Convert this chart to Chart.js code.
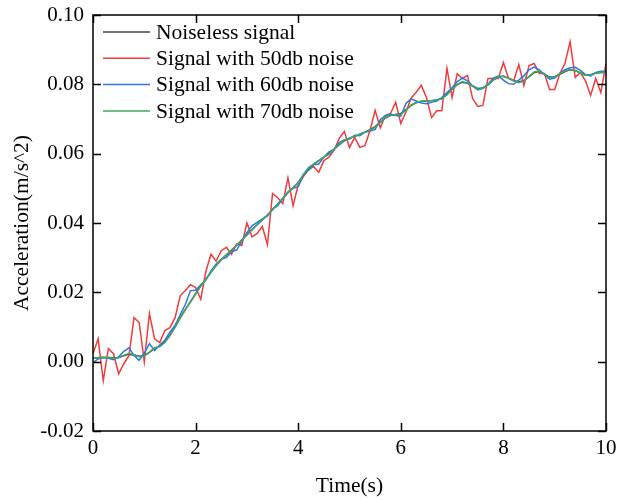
<!DOCTYPE html>
<html>
<head>
<meta charset="utf-8">
<script src="https://cdn.jsdelivr.net/npm/chart.js@4.4.1/dist/chart.umd.min.js"></script>
<style>
  html, body { margin: 0; padding: 0; background: #fff; }
  canvas { display: block; }
</style>
</head>
<body>
<canvas id="accChart" width="617" height="500"></canvas>
<script>
// sample times (s), one every 0.1 s
const time = [
  0.0, 0.1, 0.2, 0.3, 0.4, 0.5, 0.6, 0.7, 0.8, 0.9,
  1.0, 1.1, 1.2, 1.3, 1.4, 1.5, 1.6, 1.7, 1.8, 1.9,
  2.0, 2.1, 2.2, 2.3, 2.4, 2.5, 2.6, 2.7, 2.8, 2.9,
  3.0, 3.1, 3.2, 3.3, 3.4, 3.5, 3.6, 3.7, 3.8, 3.9,
  4.0, 4.1, 4.2, 4.3, 4.4, 4.5, 4.6, 4.7, 4.8, 4.9,
  5.0, 5.1, 5.2, 5.3, 5.4, 5.5, 5.6, 5.7, 5.8, 5.9,
  6.0, 6.1, 6.2, 6.3, 6.4, 6.5, 6.6, 6.7, 6.8, 6.9,
  7.0, 7.1, 7.2, 7.3, 7.4, 7.5, 7.6, 7.7, 7.8, 7.9,
  8.0, 8.1, 8.2, 8.3, 8.4, 8.5, 8.6, 8.7, 8.8, 8.9,
  9.0, 9.1, 9.2, 9.3, 9.4, 9.5, 9.6, 9.7, 9.8, 9.9,
  10.0
];

const noiseless = [
  0.0010, 0.0011, 0.0012, 0.0012, 0.0011, 0.0012, 0.0017, 0.0021, 0.0019, 0.0016,
  0.0018, 0.0027, 0.0038, 0.0045, 0.0057, 0.0076, 0.0100, 0.0126, 0.0150, 0.0173,
  0.0196, 0.0218, 0.0238, 0.0258, 0.0277, 0.0294, 0.0308, 0.0322, 0.0336, 0.0351,
  0.0366, 0.0381, 0.0395, 0.0409, 0.0423, 0.0438, 0.0455, 0.0471, 0.0487, 0.0502,
  0.0517, 0.0538, 0.0556, 0.0569, 0.0580, 0.0590, 0.0600, 0.0613, 0.0626, 0.0637,
  0.0644, 0.0650, 0.0656, 0.0662, 0.0669, 0.0678, 0.0691, 0.0703, 0.0710, 0.0713,
  0.0716, 0.0727, 0.0739, 0.0747, 0.0751, 0.0752, 0.0753, 0.0755, 0.0759, 0.0771,
  0.0786, 0.0799, 0.0806, 0.0803, 0.0795, 0.0786, 0.0789, 0.0799, 0.0812, 0.0821,
  0.0823, 0.0818, 0.0811, 0.0807, 0.0811, 0.0822, 0.0834, 0.0837, 0.0829, 0.0821,
  0.0822, 0.0829, 0.0837, 0.0842, 0.0840, 0.0833, 0.0827, 0.0828, 0.0832, 0.0834,
  0.0834
];

const noise50 = [
  0.0023, 0.0066, -0.0055, 0.0038, 0.0023, -0.0035, -0.0006, 0.0017, 0.0127, 0.0113,
  0.0000, 0.0139, 0.0066, 0.0055, 0.0090, 0.0098, 0.0127, 0.0190, 0.0205, 0.0222,
  0.0214, 0.0180, 0.0260, 0.0310, 0.0290, 0.0320, 0.0330, 0.0310, 0.0340, 0.0335,
  0.0400, 0.0360, 0.0370, 0.0390, 0.0338, 0.0485, 0.0473, 0.0456, 0.0530, 0.0450,
  0.0510, 0.0534, 0.0554, 0.0563, 0.0546, 0.0580, 0.0590, 0.0610, 0.0644, 0.0664,
  0.0618, 0.0647, 0.0618, 0.0623, 0.0667, 0.0725, 0.0675, 0.0710, 0.0716, 0.0748,
  0.0687, 0.0720, 0.0760, 0.0777, 0.0797, 0.0762, 0.0704, 0.0724, 0.0724, 0.0846,
  0.0762, 0.0831, 0.0817, 0.0826, 0.0759, 0.0736, 0.0739, 0.0817, 0.0817, 0.0817,
  0.0863, 0.0817, 0.0810, 0.0857, 0.0797, 0.0854, 0.0860, 0.0831, 0.0831, 0.0785,
  0.0785, 0.0831, 0.0860, 0.0923, 0.0820, 0.0834, 0.0810, 0.0768, 0.0817, 0.0776,
  0.0860
];

const noise60 = [
  -0.0003, 0.0008, 0.0012, 0.0010, 0.0006, 0.0014, 0.0030, 0.0040, 0.0018, 0.0004,
  0.0025, 0.0052, 0.0032, 0.0048, 0.0062, 0.0085, 0.0105, 0.0135, 0.0165, 0.0205,
  0.0206, 0.0222, 0.0235, 0.0262, 0.0282, 0.0296, 0.0300, 0.0318, 0.0322, 0.0348,
  0.0372, 0.0392, 0.0402, 0.0412, 0.0420, 0.0440, 0.0450, 0.0470, 0.0490, 0.0500,
  0.0505, 0.0538, 0.0552, 0.0568, 0.0570, 0.0590, 0.0605, 0.0612, 0.0632, 0.0640,
  0.0642, 0.0653, 0.0652, 0.0662, 0.0665, 0.0670, 0.0698, 0.0710, 0.0714, 0.0710,
  0.0708, 0.0745, 0.0758, 0.0752, 0.0746, 0.0744, 0.0748, 0.0752, 0.0762, 0.0776,
  0.0790, 0.0808, 0.0818, 0.0810, 0.0796, 0.0788, 0.0790, 0.0800, 0.0818, 0.0824,
  0.0812, 0.0802, 0.0800, 0.0812, 0.0825, 0.0842, 0.0850, 0.0842, 0.0828, 0.0815,
  0.0818, 0.0832, 0.0842, 0.0848, 0.0849, 0.0840, 0.0828, 0.0824, 0.0834, 0.0838,
  0.0838
];

const noise70 = [
  0.0009, 0.0012, 0.0013, 0.0012, 0.0010, 0.0011, 0.0018, 0.0024, 0.0020, 0.0014,
  0.0016, 0.0028, 0.0040, 0.0043, 0.0055, 0.0075, 0.0100, 0.0127, 0.0150, 0.0172,
  0.0195, 0.0218, 0.0238, 0.0258, 0.0278, 0.0295, 0.0308, 0.0322, 0.0335, 0.0350,
  0.0365, 0.0380, 0.0395, 0.0410, 0.0423, 0.0438, 0.0455, 0.0472, 0.0488, 0.0502,
  0.0516, 0.0540, 0.0560, 0.0570, 0.0580, 0.0590, 0.0598, 0.0612, 0.0626, 0.0638,
  0.0645, 0.0650, 0.0656, 0.0662, 0.0668, 0.0676, 0.0690, 0.0704, 0.0710, 0.0713,
  0.0714, 0.0725, 0.0740, 0.0748, 0.0751, 0.0752, 0.0753, 0.0755, 0.0758, 0.0770,
  0.0786, 0.0800, 0.0808, 0.0804, 0.0795, 0.0784, 0.0788, 0.0798, 0.0812, 0.0822,
  0.0824, 0.0818, 0.0810, 0.0805, 0.0810, 0.0822, 0.0836, 0.0838, 0.0828, 0.0820,
  0.0822, 0.0830, 0.0838, 0.0843, 0.0840, 0.0832, 0.0826, 0.0828, 0.0833, 0.0835,
  0.0834
];

const seriesNames = ["Noiseless signal", "Signal with 50db noise", "Signal with 60db noise", "Signal with 70db noise"];
const seriesColors = ["#444444", "#ee3c3c", "#2f74e2", "#3caa62"];

const FONT = '"Liberation Serif", "Times New Roman", serif';

const toPoints = (vals) => vals.map((v, i) => ({ x: time[i], y: v }));

// frame with inward ticks on all four sides + legend inside the plot
const framePlugin = {
  id: "framePlugin",
  afterDraw(chart) {
    const { ctx, chartArea: a, scales: { x, y } } = chart;
    const len = 8;
    ctx.save();
    ctx.strokeStyle = "#000";
    ctx.lineWidth = 1.5;
    ctx.strokeRect(a.left, a.top, a.right - a.left, a.bottom - a.top);
    ctx.beginPath();
    x.ticks.forEach((t) => {
      const px = Math.round(x.getPixelForValue(t.value)) + 0.5;
      ctx.moveTo(px, a.bottom); ctx.lineTo(px, a.bottom - len);
      ctx.moveTo(px, a.top); ctx.lineTo(px, a.top + len);
    });
    y.ticks.forEach((t) => {
      const py = Math.round(y.getPixelForValue(t.value)) + 0.5;
      ctx.moveTo(a.left, py); ctx.lineTo(a.left + len, py);
      ctx.moveTo(a.right, py); ctx.lineTo(a.right - len, py);
    });
    ctx.stroke();

    // legend
    ctx.font = "21.5px " + FONT;
    ctx.textBaseline = "middle";
    ctx.fillStyle = "#000";
    chart.data.datasets.forEach((ds, i) => {
      const ly = a.top + 17 + i * 26.3;
      ctx.strokeStyle = ds.borderColor;
      ctx.lineWidth = 1.5;
      ctx.beginPath();
      ctx.moveTo(a.left + 10, ly);
      ctx.lineTo(a.left + 57, ly);
      ctx.stroke();
      ctx.fillText(ds.label, a.left + 63, ly + 1);
    });
    ctx.restore();
  }
};

const drawOrder = [4, 3, 2, 1];
const allSeries = [noiseless, noise50, noise60, noise70];

const config = {
  type: "line",
  data: {
    datasets: allSeries.map((vals, i) => ({
      label: seriesNames[i],
      data: toPoints(vals),
      borderColor: seriesColors[i],
      backgroundColor: seriesColors[i],
      borderWidth: 1.5,
      pointRadius: 0,
      tension: 0,
      order: drawOrder[i],
    })),
  },
  options: {
    responsive: false,
    animation: false,
    layout: { padding: { top: 15, right: 11, bottom: 0, left: 0 } },
    plugins: {
      legend: { display: false },
      tooltip: { enabled: false },
    },
    scales: {
      x: {
        type: "linear",
        min: 0,
        max: 10,
        grid: { display: false, drawTicks: false },
        border: { display: false },
        ticks: { stepSize: 2, color: "#000", font: { family: FONT, size: 21 }, padding: 5, maxRotation: 0 },
        title: { display: true, text: "Time(s)", color: "#000", font: { family: FONT, size: 21.5 }, padding: { top: 0, bottom: 1 } },
        afterFit: (s) => { s.height = 69; s.paddingLeft = 0; s.paddingRight = 0; },
      },
      y: {
        min: -0.02,
        max: 0.1,
        grid: { display: false, drawTicks: false },
        border: { display: false },
        ticks: {
          stepSize: 0.02,
          color: "#000",
          font: { family: FONT, size: 21 },
          padding: 9,
          callback: (v) => (Math.abs(v) < 1e-9 ? "0.00" : v.toFixed(2)),
        },
        title: { display: true, text: "Acceleration(m/s^2)", color: "#000", font: { family: FONT, size: 21.5 }, padding: { top: 9, bottom: 0 } },
        afterFit: (s) => { s.width = 93; s.paddingTop = 0; s.paddingBottom = 0; },
      },
    },
  },
  plugins: [framePlugin],
};

const ctx = document.getElementById("accChart").getContext("2d");
const accChart = new Chart(ctx, config);
</script>
</body>
</html>
